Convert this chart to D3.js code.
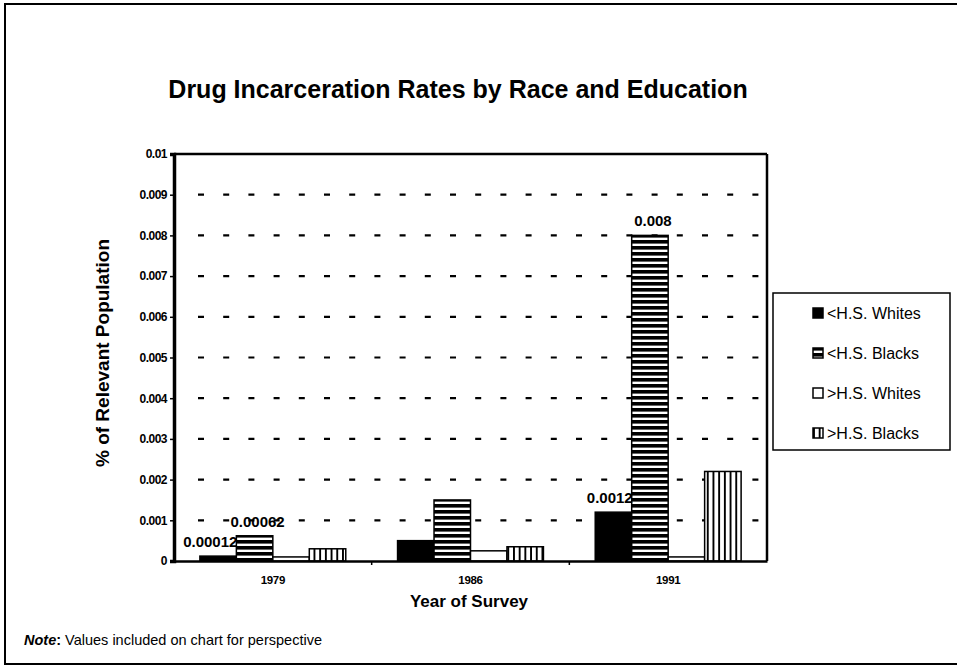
<!DOCTYPE html>
<html>
<head>
<meta charset="utf-8">
<script src="https://cdn.jsdelivr.net/npm/d3@7"></script>
<style>
  html, body { margin: 0; padding: 0; background: #fff; }
  svg { display: block; font-family: "Liberation Sans", Arial, Helvetica, sans-serif; }
</style>
</head>
<body>
<svg id="chart" width="957" height="669"></svg>
<script>
// ---- Data ----
const categories = ["1979", "1986", "1991"];
const seriesNames = ["<H.S. Whites", "<H.S. Blacks", ">H.S. Whites", ">H.S. Blacks"];
const lessHSWhites = [0.00012, 0.0005, 0.0012];
const lessHSBlacks = [0.00062, 0.0015, 0.008];
const moreHSWhites = [0.0001, 0.00025, 0.0001];
const moreHSBlacks = [0.0003, 0.00035, 0.0022];
const yTickValues = [0, 0.001, 0.002, 0.003, 0.004, 0.005, 0.006, 0.007, 0.008, 0.009, 0.01];
const yTickLabels = ["0", "0.001", "0.002", "0.003", "0.004", "0.005", "0.006", "0.007", "0.008", "0.009", "0.01"];
// labelled points: series index, category index, label text
const labelSeries = [0, 1, 0, 1];
const labelCategory = [0, 0, 2, 2];
const labelTexts = ["0.00012", "0.00062", "0.0012", "0.008"];

const titleText = "Drug Incarceration Rates by Race and Education";
const xTitle = "Year of Survey";
const yTitle = "% of Relevant Population";

const seriesValues = [lessHSWhites, lessHSBlacks, moreHSWhites, moreHSBlacks];
const seriesFills = ["#000", "url(#hstripe)", "#fff", "url(#vstripe)"];

// ---- Layout ----
const plot = { left: 174, right: 767, top: 154, bottom: 561 };
const svg = d3.select("#chart");

// patterns
const defs = svg.append("defs");
const hp = defs.append("pattern").attr("id", "hstripe").attr("patternUnits", "userSpaceOnUse")
  .attr("width", 8).attr("height", 6);
hp.append("rect").attr("width", 8).attr("height", 6).attr("fill", "#fff");
hp.append("rect").attr("y", 0).attr("width", 8).attr("height", 3.6).attr("fill", "#000");
const vp = defs.append("pattern").attr("id", "vstripe").attr("patternUnits", "userSpaceOnUse")
  .attr("width", 5.7).attr("height", 8);
vp.append("rect").attr("width", 5.7).attr("height", 8).attr("fill", "#fff");
vp.append("rect").attr("x", 0).attr("width", 1.9).attr("height", 8).attr("fill", "#000");

// outer frame (right edge falls outside the window)
svg.append("rect").attr("x", 5).attr("y", 4).attr("width", 965).attr("height", 660)
  .attr("fill", "none").attr("stroke", "#000").attr("stroke-width", 2);

// scales
const x = d3.scaleBand().domain(categories).range([plot.left, plot.right]).paddingInner(0).paddingOuter(0);
const xs = d3.scaleBand().domain(d3.range(seriesNames.length)).range([0, x.bandwidth()])
  .paddingInner(0).paddingOuter(0.71);
const y = d3.scaleLinear().domain([0, 0.01]).range([plot.bottom, plot.top]);

// gridlines (dashed)
svg.append("g").selectAll("line").data(yTickValues.slice(1, -1)).join("line")
  .attr("x1", plot.left + 24).attr("x2", plot.right)
  .attr("y1", d => y(d)).attr("y2", d => y(d))
  .attr("stroke", "#000").attr("stroke-width", 2.2)
  .attr("stroke-dasharray", "6 19.2");

// bars
const gBars = svg.append("g");
seriesValues.forEach((vals, si) => {
  gBars.selectAll(null).data(vals).join("rect")
    .attr("x", (d, ci) => x(categories[ci]) + xs(si))
    .attr("width", xs.bandwidth())
    .attr("y", d => y(d))
    .attr("height", d => y(0) - y(d))
    .attr("fill", seriesFills[si])
    .attr("stroke", "#000").attr("stroke-width", 1.5);
});

// plot frame: top and right
svg.append("line").attr("x1", plot.left).attr("x2", plot.right).attr("y1", plot.top).attr("y2", plot.top)
  .attr("stroke", "#000").attr("stroke-width", 2.5);
svg.append("line").attr("x1", plot.right).attr("x2", plot.right).attr("y1", plot.top).attr("y2", plot.bottom)
  .attr("stroke", "#000").attr("stroke-width", 2.5);

// y axis
const yAxis = d3.axisLeft(y).tickValues(yTickValues).tickFormat((d, i) => yTickLabels[i])
  .tickSize(4).tickPadding(3);
const gy = svg.append("g").attr("transform", `translate(${plot.left},0)`).call(yAxis);
gy.select(".domain").attr("stroke-width", 3.5);
gy.selectAll(".tick line").attr("stroke-width", 1.5);
gy.selectAll("text").attr("font-size", 12).attr("font-weight", "bold").attr("fill", "#000")
  .attr("font-family", "'Liberation Sans', Arial, sans-serif").attr("letter-spacing", -0.5);

// x axis
const xAxis = d3.axisBottom(x).tickSize(0).tickPadding(15);
const gx = svg.append("g").attr("transform", `translate(0,${plot.bottom})`).call(xAxis);
gx.select(".domain").attr("stroke-width", 2.5);
gx.selectAll("text").attr("font-size", 11.5).attr("font-weight", "bold").attr("fill", "#000")
  .attr("font-family", "'Liberation Sans', Arial, sans-serif").attr("letter-spacing", -0.3);
// category separator ticks
svg.append("g").selectAll("line").data(categories.slice(1)).join("line")
  .attr("x1", d => x(d)).attr("x2", d => x(d))
  .attr("y1", plot.bottom).attr("y2", plot.bottom + 4)
  .attr("stroke", "#000").attr("stroke-width", 1.5);

// data labels (first series' labels sit flush with the bar's right edge)
svg.append("g").selectAll("text").data(labelTexts).join("text")
  .attr("x", (d, i) => {
    const bx = x(categories[labelCategory[i]]) + xs(labelSeries[i]);
    return labelSeries[i] === 0 ? bx + xs.bandwidth() + 1 : bx + xs.bandwidth() / 2 + 3;
  })
  .attr("y", (d, i) => y(seriesValues[labelSeries[i]][labelCategory[i]]) - 9)
  .attr("text-anchor", (d, i) => labelSeries[i] === 0 ? "end" : "middle")
  .attr("font-size", 15).attr("font-weight", "bold").attr("fill", "#000")
  .text(d => d);

// titles
svg.append("text").attr("x", 458).attr("y", 98).attr("text-anchor", "middle")
  .attr("font-size", 25).attr("font-weight", "bold").text(titleText);
svg.append("text").attr("x", 469).attr("y", 607).attr("text-anchor", "middle")
  .attr("font-size", 17).attr("font-weight", "bold").text(xTitle);
svg.append("text").attr("transform", "translate(109,353) rotate(-90)").attr("text-anchor", "middle")
  .attr("font-size", 19).attr("font-weight", "bold").text(yTitle);

// note
const note = svg.append("text").attr("x", 24).attr("y", 645).attr("font-size", 14.5);
note.append("tspan").attr("font-weight", "bold").attr("font-style", "italic").text("Note");
note.append("tspan").attr("font-weight", "bold").text(": ");
note.append("tspan").text(" Values included on chart for perspective");

// legend
const legend = svg.append("g");
legend.append("rect").attr("x", 773).attr("y", 293).attr("width", 177).attr("height", 157)
  .attr("fill", "#fff").attr("stroke", "#000").attr("stroke-width", 1.5);
const legY = d3.scalePoint().domain(d3.range(seriesNames.length)).range([313, 433]);
const items = legend.selectAll("g.item").data(seriesNames).join("g").attr("class", "item")
  .attr("transform", (d, i) => `translate(813,${legY(i)})`);
items.append("rect").attr("x", 0).attr("y", -5).attr("width", 10).attr("height", 10)
  .attr("fill", (d, i) => seriesFills[i]).attr("stroke", "#000").attr("stroke-width", 1.5);
items.append("text").attr("x", 14).attr("y", 5.5).attr("font-size", 16).text(d => d);
</script>
</body>
</html>
